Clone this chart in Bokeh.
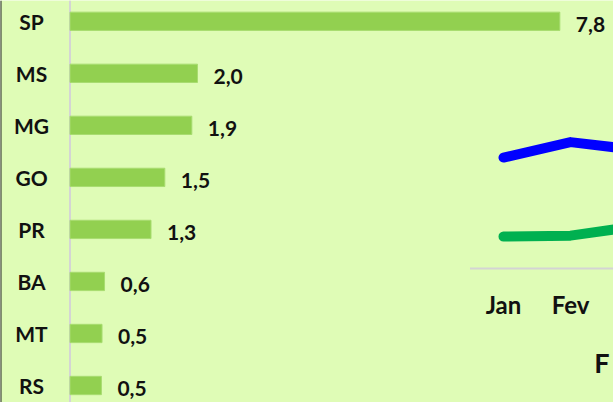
from bokeh.plotting import figure
from bokeh.models import Range1d, Span, ColumnDataSource, Label
from bokeh.core.properties import value
from bokeh.embed import file_html
from bokeh.resources import INLINE

# ---- data ----
states = ["SP", "MS", "MG", "GO", "PR", "BA", "MT", "RS"]
share = [7.8, 2.03, 1.94, 1.51, 1.29, 0.55, 0.51, 0.50]
share_labels = ["7,8", "2,0", "1,9", "1,5", "1,3", "0,6", "0,5", "0,5"]
months = ["Jan", "Fev", "Mar"]
blue_series = [3.51, 4.0, 3.75]
green_series = [1.01, 1.04, 1.34]
title_text = "F"

# ---- style ----
W, H = 613, 402
BG = "#dffcb6"
BAR = "#92d050"
FONT = "Lato"

# pixel geometry (figure pixels)
BASE_X, PX_X = 69.5, 62.8          # bar base, px per unit
RS_Y, PX_Y = 17.0, 52.03           # centre of lowest bar from bottom, px per category
AX_Y, PX_V = 134.0, 31.6           # line-chart axis from bottom, px per unit
JAN_X, PX_M = 503.0, 67.0          # first month centre, px per month

pos = [len(states) - 1 - i for i in range(len(states))]
bars = ColumnDataSource(dict(state=states, pos=pos, share=share, label=share_labels))
midx = list(range(len(months)))
lines = ColumnDataSource(dict(mi=midx, blue=blue_series, green=green_series))

m_range = Range1d(-JAN_X / PX_M, (W - JAN_X) / PX_M)
# month labels that fall inside the visible part of the chart
vis = [i for i in midx if i + 0.5 <= m_range.end]
mlabels = ColumnDataSource(dict(month=[months[i] for i in vis], mi=vis, zero=[0] * len(vis)))

p = figure(width=W, height=H,
           x_range=Range1d(-BASE_X / PX_X, (W - BASE_X) / PX_X),
           y_range=Range1d(-RS_Y / PX_Y, (H - RS_Y) / PX_Y),
           output_backend="svg", toolbar_location=None, min_border=0,
           x_axis_location=None, y_axis_location=None,
           background_fill_color=BG, border_fill_color=BG, outline_line_color=None)
p.grid.visible = False
p.extra_x_ranges = {"m": m_range}
p.extra_y_ranges = {"v": Range1d(-AX_Y / PX_V, (H - AX_Y) / PX_V)}

# left border
p.add_layout(Span(location=p.x_range.start, dimension="height", line_color="#222222", line_width=2))

# bar chart
p.add_layout(Span(location=0, dimension="height", line_color="#d4d4d4", line_width=2, level="underlay"))
p.hbar(y="pos", left=0, right="share", height=0.352, source=bars,
       fill_color=BAR, line_color="#a8dc70", line_width=1)
p.text(x=(31 - BASE_X) / PX_X, y="pos", text="state", source=bars, text_align="center",
       text_baseline="middle",
       text_font=value(FONT), text_font_style="bold", text_font_size="21px", text_color="#111111")
p.text(x="share", y="pos", text="label", source=bars, x_offset=16, y_offset=3,
       text_align="left", text_baseline="middle",
       text_font=value(FONT), text_font_style="bold", text_font_size="21px", text_color="#111111")

# line chart
p.segment(x0=-0.5, y0=0, x1=len(months) - 0.5, y1=0, x_range_name="m", y_range_name="v",
          line_color="#d4d4d4", line_width=2)
p.line(x="mi", y="blue", source=lines, x_range_name="m", y_range_name="v",
       line_color="#0000ff", line_width=10, line_cap="round", line_join="round")
p.line(x="mi", y="green", source=lines, x_range_name="m", y_range_name="v",
       line_color="#00b050", line_width=10, line_cap="round", line_join="round")
p.text(x="mi", y="zero", text="month", source=mlabels, x_range_name="m", y_range_name="v",
       y_offset=36, text_align="center", text_baseline="middle",
       text_font=value(FONT), text_font_style="bold", text_font_size="24px", text_color="#111111")

p.add_layout(Label(x=W - 4, y=40, x_units="screen", y_units="screen", text=title_text,
                   text_align="right", text_baseline="middle", text_font=FONT,
                   text_font_style="bold", text_font_size="27px", text_color="#111111"))

open("out.html", "w").write(file_html(p, INLINE))
